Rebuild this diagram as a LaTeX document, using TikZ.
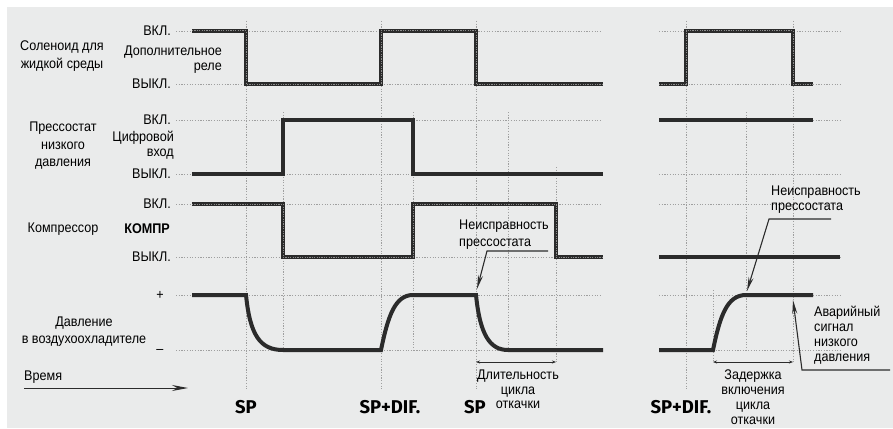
\documentclass[tikz,border=0pt]{standalone}
\usepackage{fontspec}
\setmainfont{Liberation Sans}[FakeStretch=0.9]
\newfontfamily\spfont{Fira Sans}
\usetikzlibrary{arrows.meta}
\definecolor{panel}{HTML}{EAEBEB}
\definecolor{sig}{HTML}{2B2B2B}
\tikzset{
  gridline/.style={gray!75, line width=0.7pt, dash pattern=on 1.2pt off 1.5pt},
  levelsig/.style={sig, line width=4pt, line join=miter},
  relaysig/.style={sig, line width=4.6pt, line join=miter,
    postaction={draw=gray!90, line width=1pt, dash pattern=on 1.2pt off 1.2pt}},
  lbl/.style={font=\fontsize{14}{15}\selectfont, inner sep=0pt},
  biglbl/.style={lbl, align=center, font=\fontsize{14}{17.5}\selectfont},
  splbl/.style={font=\spfont\bfseries\fontsize{18.5}{18.5}\selectfont, inner sep=0pt},
  callout/.style={sig, line width=1.1pt, -{Stealth[length=14pt, width=5pt]}},
  dimline/.style={sig, line width=0.8pt, {Stealth[length=4pt, width=3pt]}-{Stealth[length=4pt, width=3pt]}}
}
\begin{document}
\begin{tikzpicture}[x=1pt, y=-1pt]
\fill[white] (0,0) rectangle (893,428);
\fill[panel] (7,7) rectangle (893,428);

% grid
\foreach \y in {31,84,120,174,204,257,295,350} {
  \draw[gridline] (176,\y) -- (602,\y);
  \draw[gridline] (659,\y) -- (840,\y);
}
\foreach \x in {246,381,476,686} \draw[gridline] (\x,21) -- (\x,390);
\foreach \x in {283,413,508,746} \draw[gridline] (\x,112) -- (\x,350);
\draw[gridline] (556,167) -- (556,362);
\draw[gridline] (793,21) -- (793,362);
\draw[gridline] (713,290) -- (713,362);

% signals
\draw[relaysig] (192,31) -- (246,31) -- (246,84) -- (381,84) -- (381,31) -- (476,31) -- (476,84) -- (603,84);
\draw[levelsig] (192,174) -- (283,174) -- (283,120) -- (413,120) -- (413,174) -- (603,174);
\draw[relaysig] (192,204) -- (283,204) -- (283,257) -- (413,257) -- (413,204) -- (556,204) -- (556,257) -- (603,257);
\draw[levelsig] (192,295) -- (246,295) .. controls (250,335) and (260,350) .. (283,350) -- (381,350)
  .. controls (388,316) and (395,295) .. (413,295) -- (476,295)
  .. controls (480,335) and (490,350) .. (508,350) -- (603,350);

\draw[relaysig] (659,84) -- (686,84) -- (686,31) -- (793,31) -- (793,84) -- (813,84);
\draw[levelsig] (659,120) -- (813,120);
\draw[levelsig] (659,257) -- (840,257);
\draw[levelsig] (659,350) -- (713,350) .. controls (720,316) and (727,295) .. (746,295) -- (813,295);

% row labels
\node[biglbl] (sol) at (62,56) {Соленоид для\\жидкой среды};
\node[biglbl] (lps) at (63,146) {Прессостат\\низкого\\давления};
\node[biglbl] (comp) at (63,229) {Компрессор};
\node[biglbl] (pres) at (84,331.5) {Давление\\в воздухоохладителе};

\node[lbl, anchor=east] (on1) at (171,31) {ВКЛ.};
\node[lbl, anchor=east] (off1) at (171,84) {ВЫКЛ.};
\node[lbl, anchor=east, align=right] (aux) at (222,59.5) {Дополнительное\\реле};
\node[lbl, anchor=east] (on2) at (171,120) {ВКЛ.};
\node[lbl, anchor=east] (off2) at (171,174) {ВЫКЛ.};
\node[lbl, anchor=east, align=right] (din) at (174,145.5) {Цифровой\\вход};
\node[lbl, anchor=east] (on3) at (171,204) {ВКЛ.};
\node[lbl, anchor=east] (off3) at (171,257) {ВЫКЛ.};
\node[lbl, anchor=east, font=\fontsize{14}{15}\selectfont\bfseries] (kompr) at (170,229) {КОМПР};
\node[lbl] (plus) at (160,295) {+};
\node[lbl] (minus) at (160,351) {\textendash};

% time axis
\node[lbl, anchor=west] (time) at (24,377) {Время};
\coordinate (t0) at (24,388);
\coordinate (t1) at (188,388);
\draw[sig, line width=1pt, -{Stealth[length=16pt, width=6pt]}] (t0) -- (t1);

% set points
\node[splbl] (sp1) at (246,407) {SP};
\node[splbl] (dif1) at (390,407) {SP+DIF.};
\node[splbl] (sp2) at (475,407) {SP};
\node[splbl] (dif2) at (681,407) {SP+DIF.};

% durations
\coordinate (pd0) at (476,362);
\coordinate (pd1) at (556,362);
\draw[dimline] (pd0) -- (pd1);
\node[lbl, align=center, font=\fontsize{14}{14.5}\selectfont] (pdtxt) at (518,389.5) {Длительность\\цикла\\откачки};
\coordinate (dd0) at (713,362);
\coordinate (dd1) at (793,362);
\draw[dimline] (dd0) -- (dd1);
\node[lbl, align=center] (ddtxt) at (753,397.5) {Задержка\\включения\\цикла\\откачки};

% callouts
\node[lbl, align=left, font=\fontsize{14}{17}\selectfont] (fault1) at (504,234.5) {Неисправность\\прессостата};
\coordinate (f1a) at (548,251);
\coordinate (f1b) at (487,251);
\coordinate (f1c) at (477,289);
\draw[callout] (f1a) -- (f1b) -- (f1c);

\node[lbl, align=left] (fault2) at (816,199.5) {Неисправность\\прессостата};
\coordinate (f2a) at (831,219);
\coordinate (f2b) at (769,219);
\coordinate (f2c) at (747,291);
\draw[callout] (f2a) -- (f2b) -- (f2c);

\node[lbl, align=left, anchor=west] (alarm) at (814,335.5) {Аварийный\\сигнал\\низкого\\давления};
\coordinate (ala) at (890,370);
\coordinate (alb) at (802,370);
\coordinate (alc) at (793,300);
\draw[callout] (ala) -- (alb) -- (alc);
\end{tikzpicture}
\end{document}
